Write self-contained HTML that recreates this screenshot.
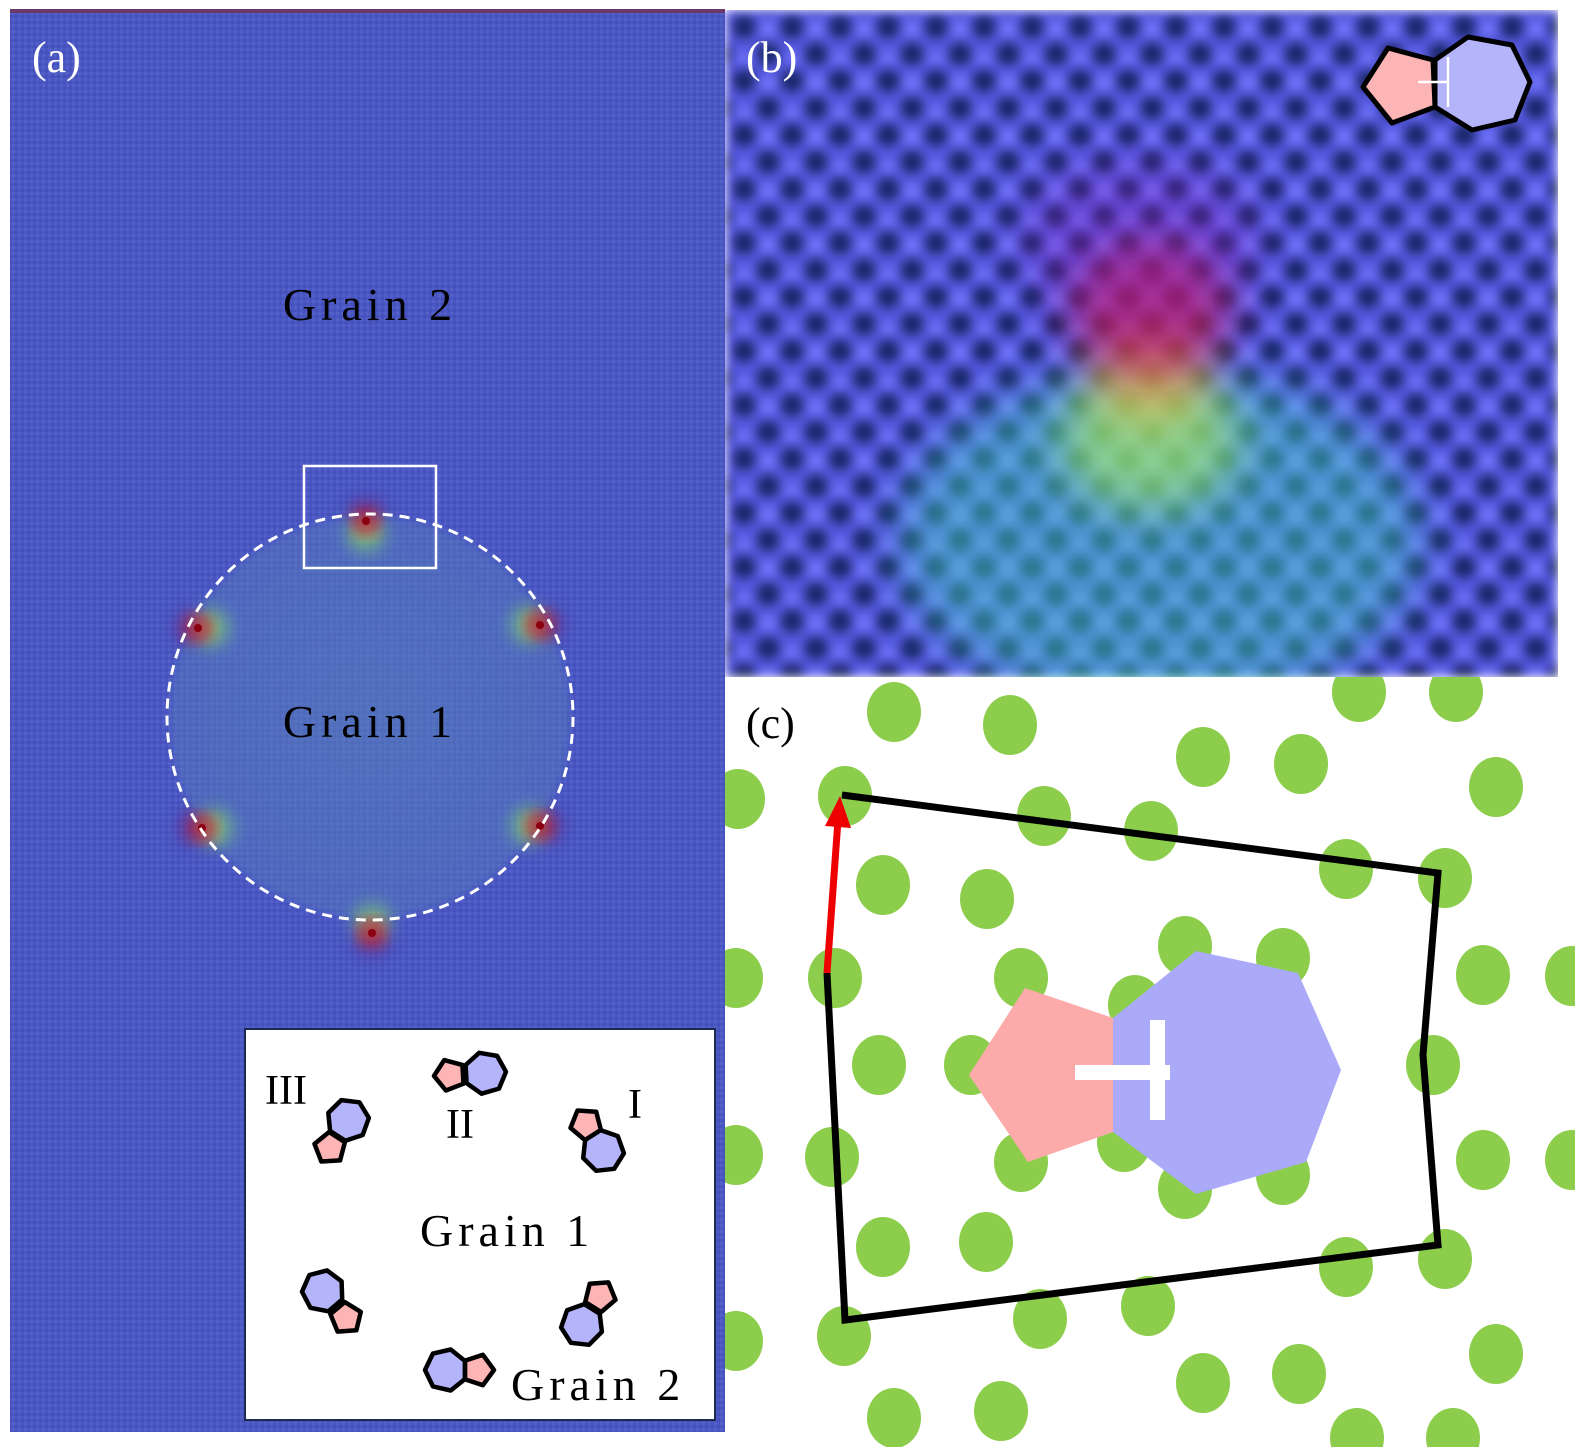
<!DOCTYPE html>
<html><head><meta charset="utf-8"><style>
html,body{margin:0;padding:0;background:#fff;}
svg{display:block;}
text{font-family:"Liberation Serif",serif;}
</style></head><body>
<svg id="s" width="1575" height="1447" viewBox="0 0 1575 1447" xmlns="http://www.w3.org/2000/svg">
<defs>
  <pattern id="pa" width="6" height="6" patternUnits="userSpaceOnUse">
    <rect width="6" height="6" fill="#4a56c2"/>
    <rect width="3" height="3" fill="#5260c8"/>
    <rect x="3" y="3" width="3" height="3" fill="#4450bc"/>
  </pattern>
  <filter id="bl" x="-50%" y="-50%" width="200%" height="200%"><feGaussianBlur stdDeviation="8"/></filter>
  <filter id="bl2" x="-50%" y="-50%" width="200%" height="200%"><feGaussianBlur stdDeviation="22"/></filter>
  <filter id="bl3"><feGaussianBlur stdDeviation="5"/></filter>
  <pattern id="pb" width="48" height="54" patternUnits="userSpaceOnUse">
    <rect width="48" height="54" fill="#5458e0"/>
    <circle cx="0" cy="0" r="13" fill="#1c2a70"/><circle cx="48" cy="0" r="13" fill="#1c2a70"/>
    <circle cx="0" cy="54" r="13" fill="#1c2a70"/><circle cx="48" cy="54" r="13" fill="#1c2a70"/>
    <circle cx="24" cy="27" r="13" fill="#1c2a70"/>
    <circle cx="24" cy="2" r="7" fill="#7478ff"/><circle cx="0" cy="29" r="7" fill="#7478ff"/><circle cx="48" cy="29" r="7" fill="#7478ff"/>
  </pattern>
  <radialGradient id="gin" cx="0.5" cy="0.5" r="0.5">
    <stop offset="0" stop-color="#5a8ab8" stop-opacity="0.5"/>
    <stop offset="0.95" stop-color="#5a8ab8" stop-opacity="0.35"/>
    <stop offset="1" stop-color="#5a8ab8" stop-opacity="0"/>
  </radialGradient>
  <clipPath id="cb"><rect x="725" y="10" width="833" height="667"/></clipPath>
  <clipPath id="cc"><rect x="725" y="677" width="850" height="770"/></clipPath>
</defs>

<!-- Panel (a) -->
<rect x="10" y="9" width="715" height="1423" fill="url(#pa)"/>
<rect x="10" y="9" width="715" height="4" fill="#6a3a6a"/>
<circle cx="370" cy="717" r="205" fill="url(#gin)"/>
<g id="defects"></g>
<circle cx="370" cy="717" r="203" fill="none" stroke="#fff" stroke-width="3" stroke-dasharray="10,7"/>
<rect x="304" y="466" width="132" height="102" fill="none" stroke="#fff" stroke-width="2.5"/>
<text x="32" y="72" font-size="44" fill="#fff">(a)</text>
<text x="370" y="320" font-size="46" text-anchor="middle" fill="#000" letter-spacing="5">Grain 2</text>
<text x="370" y="737" font-size="46" text-anchor="middle" fill="#000" letter-spacing="5">Grain 1</text>
<rect x="245" y="1029" width="470" height="391" fill="#fff" stroke="#1a2a50" stroke-width="2"/>
<g id="inset"></g>
<text x="265" y="1104" font-size="42">III</text>
<text x="446" y="1138" font-size="42">II</text>
<text x="628" y="1118" font-size="42">I</text>
<text x="420" y="1246" font-size="46" letter-spacing="5">Grain 1</text>
<text x="511" y="1400" font-size="46" letter-spacing="5">Grain 2</text>

<!-- Panel (b) -->
<g clip-path="url(#cb)">
  <rect x="725" y="10" width="833" height="667" fill="url(#pb)" filter="url(#bl3)"/>
  <ellipse cx="1160" cy="540" rx="260" ry="170" fill="#40d8c0" opacity="0.45" filter="url(#bl2)"/>
  <ellipse cx="1150" cy="440" rx="90" ry="70" fill="#a8f060" opacity="0.6" filter="url(#bl2)"/>
  <ellipse cx="1150" cy="380" rx="60" ry="45" fill="#f0c040" opacity="0.55" filter="url(#bl2)"/>
  <ellipse cx="1150" cy="310" rx="80" ry="70" fill="#d01850" opacity="0.65" filter="url(#bl2)"/>
  <ellipse cx="1140" cy="240" rx="120" ry="80" fill="#8a20c0" opacity="0.3" filter="url(#bl2)"/>
</g>
<text x="746" y="72" font-size="44" fill="#fff">(b)</text>
<polygon points="1388,48 1433,60 1435,107 1392,123 1363,87" fill="#fdb4b4" stroke="#000" stroke-width="5" stroke-linejoin="round"/>
<polygon points="1435,60 1468,37 1512,45 1530,82 1515,120 1472,130 1435,107" fill="#b4b4fa" stroke="#000" stroke-width="5" stroke-linejoin="round"/>
<line x1="1418" y1="82" x2="1448" y2="82" stroke="#fff" stroke-width="2.5"/>
<line x1="1448" y1="57" x2="1448" y2="107" stroke="#fff" stroke-width="2.5"/>

<!-- Panel (c) -->
<rect x="725" y="677" width="850" height="770" fill="#fff"/>
<g id="dots" clip-path="url(#cc)"></g>
<polygon points="1025,988 1113,1018 1113,1132 1028,1162 969,1075" fill="#fcaaaa"/>
<polygon points="1113,1018 1196,951 1298,973 1341,1070 1306,1162 1196,1194 1113,1132" fill="#aaaaf8"/>
<rect x="1075" y="1065" width="95" height="15" fill="#fff"/>
<rect x="1150" y="1020" width="15" height="100" fill="#fff"/>
<polyline points="827,973 845,1320 1438,1245 1423,1055 1438,873 842,795" fill="none" stroke="#000" stroke-width="7" stroke-linejoin="miter"/>
<line x1="827" y1="973" x2="838" y2="820" stroke="#e00" stroke-width="7"/>
<polygon points="825,826 851,828 840,796" fill="#e00"/>
<text x="746" y="738" font-size="44" fill="#000">(c)</text>
</svg>
<script>
var NS="http://www.w3.org/2000/svg";
function el(p,t,a){var e=document.createElementNS(NS,t);for(var k in a)e.setAttribute(k,a[k]);p.appendChild(e);return e;}
var d=document.getElementById('dots');
[[894,712],[1010,725],[1359,692],[1456,692],[1203,757],[1301,764],[1496,787],[738,799],[845,796],[1044,816],[1151,831],[1346,869],[1445,878],[883,885],[987,899],[1185,946],[1283,958],[736,978],[835,978],[1021,978],[1483,975],[1572,976],[1135,1005],[879,1065],[971,1065],[1433,1065],[736,1155],[832,1157],[1021,1162],[1124,1142],[1185,1189],[1283,1175],[1483,1160],[1572,1160],[883,1247],[986,1242],[1346,1267],[1445,1259],[736,1341],[844,1336],[1040,1319],[1148,1306],[1496,1354],[1203,1383],[1299,1374],[894,1418],[1001,1411],[1357,1438],[1453,1438]].forEach(function(p){el(d,'ellipse',{cx:p[0],cy:p[1],rx:27,ry:30,fill:'#8ccd4c'});});
var g=document.getElementById('defects');
[[366,521,0],[198,628,1],[540,625,2],[202,828,1],[540,826,2],[372,933,3]].forEach(function(p){
  var dx=(p[2]==1?12:p[2]==2?-10:0), dy=(p[2]==0?12:p[2]==3?-10:0);
  el(g,'circle',{cx:p[0]+dx,cy:p[1]+dy,r:20,fill:'#80d070',opacity:0.6,filter:'url(#bl)'});
  el(g,'circle',{cx:p[0]+dx/2,cy:p[1]+dy/2,r:9,fill:'#e8d040',opacity:0.8,filter:'url(#bl)'});
  el(g,'circle',{cx:p[0]-dx/2,cy:p[1]-dy/2,r:16,fill:'#8a1060',opacity:0.5,filter:'url(#bl)'});
  el(g,'circle',{cx:p[0],cy:p[1],r:10,fill:'#c01030',opacity:0.9,filter:'url(#bl)'});
  el(g,'circle',{cx:p[0],cy:p[1],r:4,fill:'#8a0010'});
});
var ins=document.getElementById('inset');
function poly(cx,cy,r,n,rot,fill){var pts=[];for(var i=0;i<n;i++){var a=rot+i*2*Math.PI/n;pts.push((cx+r*Math.cos(a)).toFixed(1)+','+(cy+r*Math.sin(a)).toFixed(1));}
 el(ins,'polygon',{points:pts.join(' '),fill:fill,stroke:'#000','stroke-width':4.5,'stroke-linejoin':'round'});}
function pair(hx,hy,px,py){var a=Math.atan2(py-hy,px-hx);
 poly(hx,hy,21,7,a+Math.PI,'#b4b4fa');poly(px,py,16,5,a,'#fdb4b4');}
pair(348,1120,330,1148);pair(485,1073,450,1075);pair(603,1151,586,1124);
pair(323,1291,346,1318);pair(582,1325,600,1296);pair(446,1370,478,1370);
</script>
</body></html>
